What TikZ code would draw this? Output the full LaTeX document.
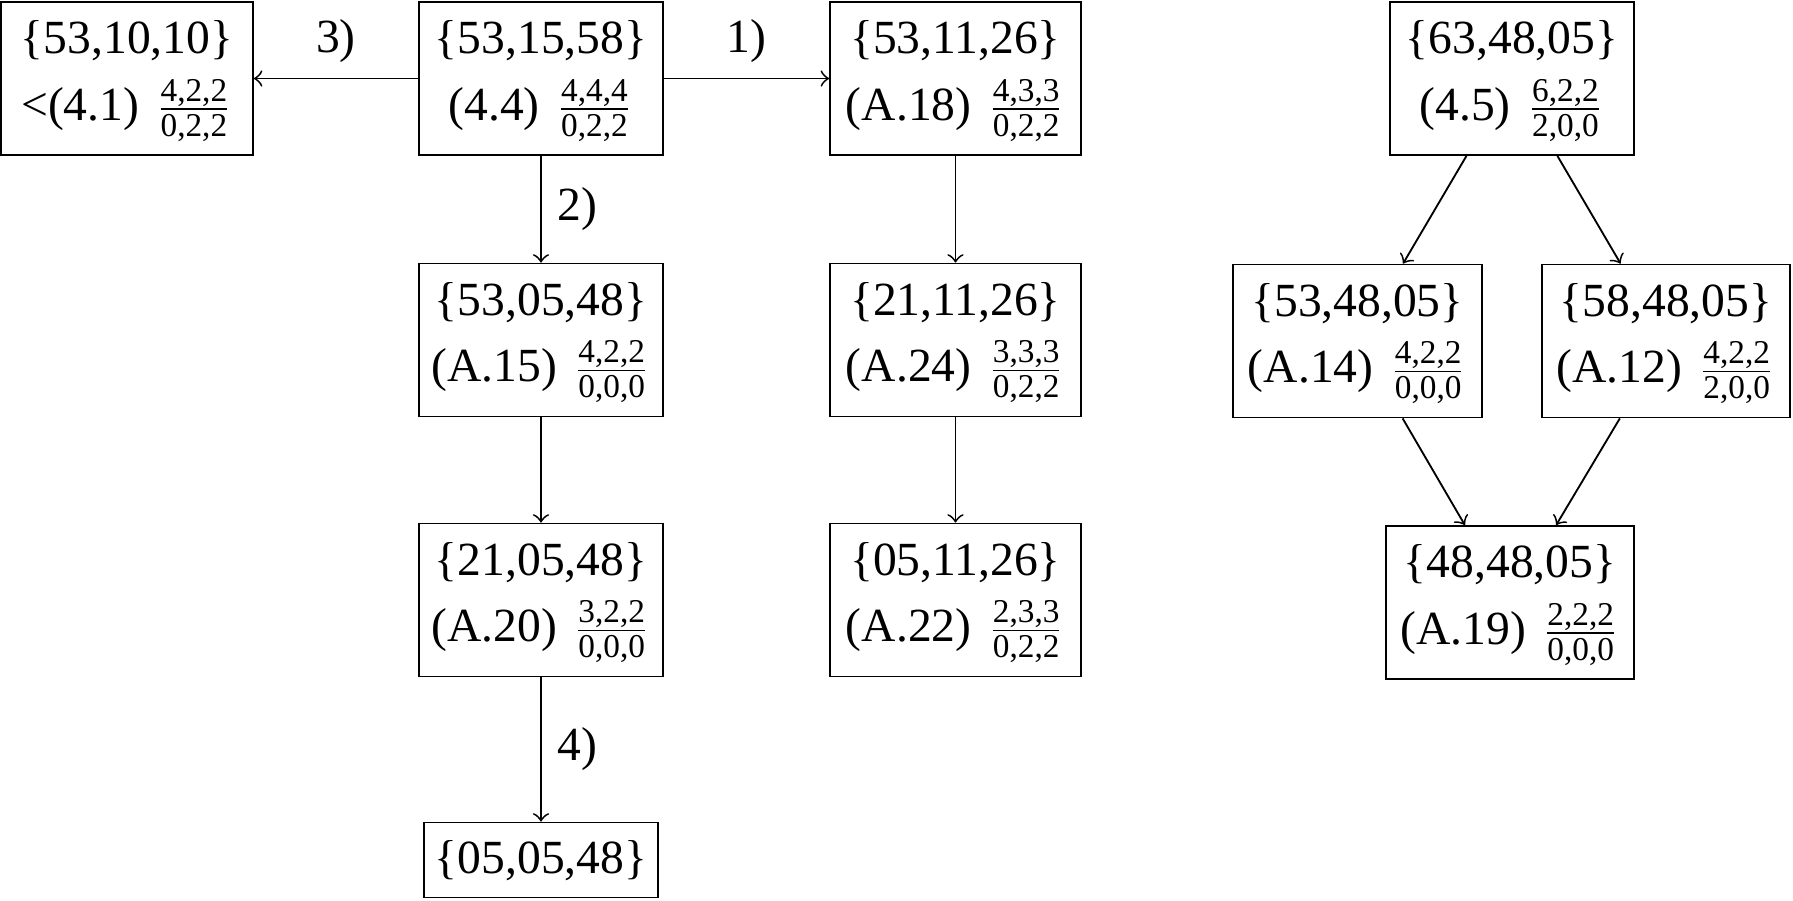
\documentclass[tikz,border=0pt]{standalone}
\usepackage{amsmath}
\usepackage{fontspec}
\setmainfont{Liberation Serif}
\newcommand\fr[2]{$\frac{\text{#1}}{\text{#2}}$}
\begin{document}
\lineskiplimit=-50pt
\lineskip=0pt
\begin{tikzpicture}[x=0.2165pt, y=-0.2165pt,
  bx/.style={draw, inner xsep=0pt, inner ysep=0pt, align=center,
    text width=#1*0.2165pt, text height=11.25pt, text depth=21.87pt,
    font=\fontsize{10.3}{14.4}\selectfont},
  arr/.style={->},
  lbl/.style={font=\fontsize{10.3}{12}\selectfont}]
\useasboundingbox (0,0) rectangle (1793,900);

\node[bx=252] (A) at (127,78.5) {\{53,10,10\}\\<(4.1) \fr{4,2,2}{0,2,2}};
\node[bx=244] (B) at (541,78.5) {\{53,15,58\}\\(4.4) \fr{4,4,4}{0,2,2}};
\node[bx=251] (C) at (955.5,78.5) {\{53,11,26\}\\(A.18) \fr{4,3,3}{0,2,2}};
\node[bx=244] (D) at (1512,78.5) {\{63,48,05\}\\(4.5) \fr{6,2,2}{2,0,0}};

\node[bx=244] (E) at (541,340) {\{53,05,48\}\\(A.15) \fr{4,2,2}{0,0,0}};
\node[bx=251] (F) at (955.5,340) {\{21,11,26\}\\(A.24) \fr{3,3,3}{0,2,2}};
\node[bx=244] (G) at (541,600) {\{21,05,48\}\\(A.20) \fr{3,2,2}{0,0,0}};
\node[bx=251] (H) at (955.5,600) {\{05,11,26\}\\(A.22) \fr{2,3,3}{0,2,2}};
\node[bx=234, text height=11pt, text depth=5.24pt] (I) at (541,860) {\{05,05,48\}};

\node[bx=249] (J) at (1357.5,341) {\{53,48,05\}\\(A.14) \fr{4,2,2}{0,0,0}};
\node[bx=248] (K) at (1666,341) {\{58,48,05\}\\(A.12) \fr{4,2,2}{2,0,0}};
\node[bx=248] (L) at (1510,602.5) {\{48,48,05\}\\(A.19) \fr{2,2,2}{0,0,0}};

\draw[arr] (B) -- node[lbl, above] {3)} (A);
\draw[arr] (B) -- node[lbl, above] {1)} (C);
\draw[arr] (B) -- node[lbl, right] {2)} (E);
\draw[arr] (E) -- (G);
\draw[arr] (G) -- node[lbl, right] {4)} (I);
\draw[arr] (C) -- (F);
\draw[arr] (F) -- (H);
\draw[arr] (D) -- (J);
\draw[arr] (D) -- (K);
\draw[arr] (J) -- (L);
\draw[arr] (K) -- (L);
\end{tikzpicture}
\end{document}
